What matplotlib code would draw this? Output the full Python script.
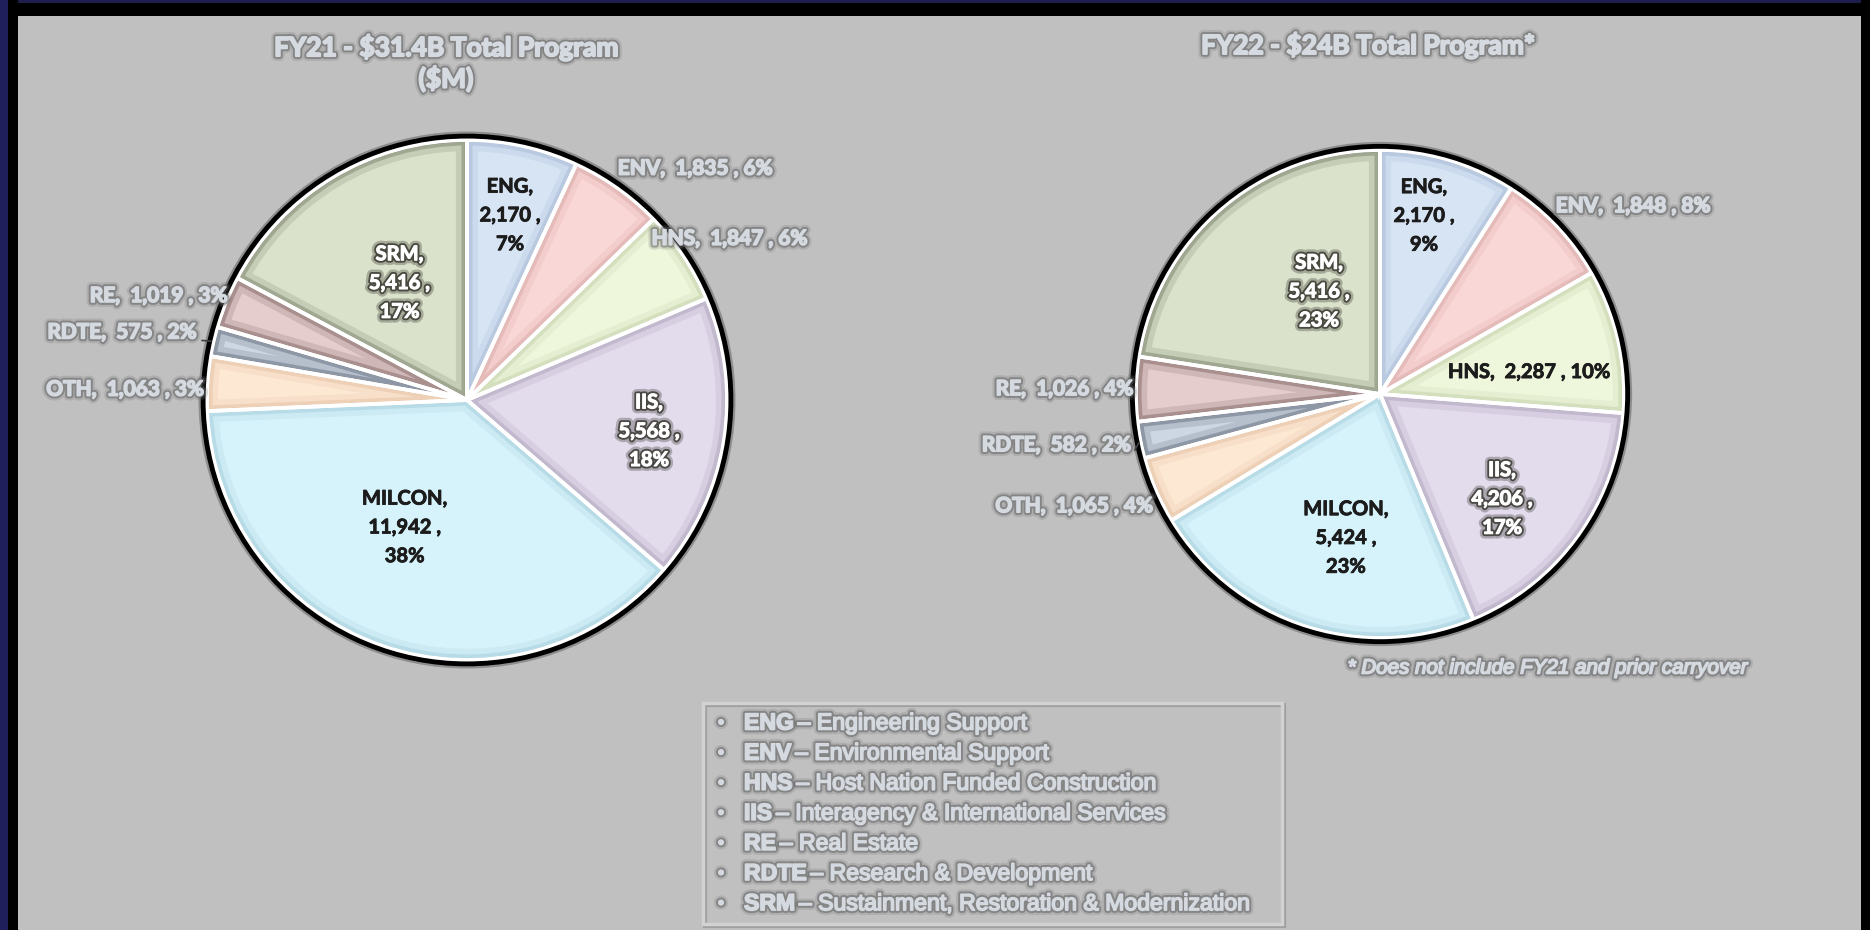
import matplotlib
matplotlib.use("Agg")
import numpy as np
import matplotlib.pyplot as plt
import matplotlib.patheffects as pe
from matplotlib.patches import Wedge, Circle, Rectangle

# Datos ($M)
categorias = ["ENG", "ENV", "HNS", "IIS", "MILCON", "OTH", "RDTE", "RE", "SRM"]
fy21_valores = [2170, 1835, 1847, 5568, 11942, 1063, 575, 1019, 5416]
fy21_pct = [7, 6, 6, 18, 38, 3, 2, 3, 17]
fy22_valores = [2170, 1848, 2287, 4206, 5424, 1065, 582, 1026, 5416]
fy22_pct = [9, 8, 10, 17, 23, 4, 2, 4, 23]

titulo_fy21 = "FY21 - $31.4B Total Program\n($M)"
titulo_fy22 = "FY22 - $24B Total Program*"
nota = "* Does not include FY21 and prior carryover"
leyenda = [
    ("ENG", "Engineering Support"),
    ("ENV", "Environmental Support"),
    ("HNS", "Host Nation Funded Construction"),
    ("IIS", "Interagency & International Services"),
    ("RE", "Real Estate"),
    ("RDTE", "Research & Development"),
    ("SRM", "Sustainment, Restoration & Modernization"),
]

colores = ["#d7e4f4", "#f9d7d6", "#eef6dc", "#e3dcec", "#d6f2fa",
           "#fde8d4", "#cdd7e3", "#e5cdcd", "#dbe2cc"]
sombras = ["#7f98bb", "#c28684", "#a5b684", "#857896", "#7fb3c4",
           "#d0a47a", "#142030", "#3a1a1a", "#333c25"]

FONDO = "#c0c0c0"
GRIS_TXT = "#d5d9e0"
W, H = 1870, 930

# posiciones de etiquetas (en radios) y tipo
layout_fy21 = {
    "ENG": (0.165, 0.71, "dark"), "ENV": (0.58, 0.89, "out"),
    "HNS": (0.71, 0.62, "out"), "IIS": (0.70, -0.12, "light"),
    "MILCON": (-0.24, -0.49, "dark"), "OTH": (-1.01, 0.04, "outr"),
    "RDTE": (-1.04, 0.26, "outr"), "RE": (-0.92, 0.40, "outr"),
    "SRM": (-0.26, 0.45, "light"),
}
layout_fy22 = {
    "ENG": (0.18, 0.73, "dark"), "ENV": (0.72, 0.77, "out"),
    "HNS": (0.61, 0.09, "dark1"), "IIS": (0.50, -0.43, "light"),
    "MILCON": (-0.14, -0.59, "dark"), "OTH": (-0.93, -0.46, "outr"),
    "RDTE": (-1.02, -0.21, "outr"), "RE": (-1.01, 0.02, "outr"),
    "SRM": (-0.25, 0.42, "light"),
}

efecto_fuera = [pe.Stroke(linewidth=7, foreground="#707070", alpha=0.22),
                pe.Stroke(linewidth=4, foreground="#5e5e5e", alpha=0.5),
                pe.Stroke(linewidth=1.2, foreground=GRIS_TXT),
                pe.Normal()]
efecto_claro = [pe.Stroke(linewidth=7, foreground="#2a2a22", alpha=0.3),
                pe.Stroke(linewidth=3.5, foreground="#2a2a22", alpha=0.75),
                pe.Stroke(linewidth=0.8, foreground="white"),
                pe.Normal()]
efecto_oscuro = [pe.Stroke(linewidth=0.6, foreground="#1c1c1c"), pe.Normal()]


def px(x, y):
    return x / W, 1 - y / H


def dibujar_pie(fig, cx, cy, r, valores, pct, layout):
    L = 1.6
    s = 2 * L * r
    ax = fig.add_axes([(cx - s / 2) / W, (H - cy - s / 2) / H, s / W, s / H])
    wedges, _ = ax.pie(valores, colors=colores, startangle=90, counterclock=False,
                       radius=1, wedgeprops=dict(linewidth=0))
    for w, sh in zip(wedges, sombras):
        for lw, a in [(16, 0.12), (8, 0.25), (3, 0.55)]:
            p = Wedge(w.center, w.r, w.theta1, w.theta2, facecolor="none",
                      edgecolor=sh, linewidth=lw, alpha=a)
            ax.add_patch(p)
            p.set_clip_path(w)
    for w in wedges:
        ax.add_patch(Wedge(w.center, w.r, w.theta1, w.theta2, fill=False,
                           edgecolor="white", linewidth=2.8))
    ax.add_patch(Circle((0, 0), 1.022, fill=False, edgecolor="#303030", lw=4, alpha=0.35))
    ax.add_patch(Circle((0, 0), 1.015, fill=False, edgecolor="black", lw=3.5))
    ax.set_xlim(-L, L)
    ax.set_ylim(-L, L)
    ax.set_aspect("equal")
    ax.axis("off")

    for cat, v, p, w in zip(categorias, valores, pct, wedges):
        x, y, tipo = layout[cat]
        if tipo in ("out", "outr"):
            ha = "left" if tipo == "out" else "right"
            ax.text(x, y, f"{cat},  {v:,} , {p}%", ha=ha, va="center",
                    fontsize=15, fontweight="bold", family="Lato",
                    color=GRIS_TXT, path_effects=efecto_fuera)
            if cat == "RDTE":
                ang = np.deg2rad((w.theta1 + w.theta2) / 2)
                ax.annotate("", xy=(np.cos(ang), np.sin(ang)),
                            xytext=(x + 0.01, y - 0.03),
                            arrowprops=dict(arrowstyle="-", color="#404040", lw=1.2))
        elif tipo == "dark1":
            ax.text(x, y, f"{cat},  {v:,} , {p}%", ha="center", va="center",
                    fontsize=14.5, fontweight="bold", family="Lato", color="#1c1c1c",
                    path_effects=efecto_oscuro)
        else:
            txt = f"{cat},\n{v:,} ,\n{p}%"
            if tipo == "dark":
                ax.text(x, y, txt, ha="center", va="center", fontsize=14.5,
                        fontweight="bold", family="Lato", color="#1c1c1c",
                        linespacing=1.55, path_effects=efecto_oscuro)
            else:
                ax.text(x, y, txt, ha="center", va="center", fontsize=14.5,
                        fontweight="bold", family="Lato", color="white",
                        linespacing=1.55, path_effects=efecto_claro)
    return ax


fig = plt.figure(figsize=(W / 100, H / 100), dpi=100, facecolor=FONDO)

# marco oscuro
fig.add_artist(Rectangle((0, 1 - 16 / H), 1, 16 / H, transform=fig.transFigure,
                         facecolor="black", edgecolor="none"))
fig.add_artist(Rectangle((0, 1 - 3 / H), 1, 3 / H, transform=fig.transFigure,
                         facecolor="#2c2c6e", edgecolor="none", alpha=0.7))
fig.add_artist(Rectangle((0, 0), 18 / W, 1, transform=fig.transFigure,
                         facecolor="black", edgecolor="none"))
fig.add_artist(Rectangle((0, 0), 8 / W, 1, transform=fig.transFigure,
                         facecolor="#2a2a7a", edgecolor="none", alpha=0.75))
fig.add_artist(Rectangle((1861 / W, 0), 9 / W, 1, transform=fig.transFigure,
                         facecolor="black", edgecolor="none"))

dibujar_pie(fig, 467, 400, 260, fy21_valores, fy21_pct, layout_fy21)
dibujar_pie(fig, 1380, 394, 244, fy22_valores, fy22_pct, layout_fy22)

efecto_titulo = [pe.Stroke(linewidth=7, foreground="#707070", alpha=0.22),
                 pe.Stroke(linewidth=4, foreground="#5a5a5a", alpha=0.5),
                 pe.Stroke(linewidth=1.4, foreground=GRIS_TXT),
                 pe.Normal()]
fig.text(*px(446, 63), titulo_fy21, ha="center", va="center", fontsize=19,
         fontweight="bold", family="Lato", color=GRIS_TXT, linespacing=1.25,
         path_effects=efecto_titulo)
fig.text(*px(1368, 45), titulo_fy22, ha="center", va="center", fontsize=19,
         fontweight="bold", family="Lato", color=GRIS_TXT, path_effects=efecto_titulo)

fig.text(*px(1547, 668), nota, ha="center", va="center", fontsize=14.8,
         style="italic", family="Liberation Sans", color=GRIS_TXT,
         path_effects=efecto_fuera)

# cuadro de leyenda
x0, y0, x1, y1 = 703, 703, 1282, 924
fig.add_artist(Rectangle(px(x0 + 2, y1 + 2), (x1 - x0) / W, (y1 - y0) / H,
                         transform=fig.transFigure, facecolor="none",
                         edgecolor="#8a8a8a", lw=3, alpha=0.6))
fig.add_artist(Rectangle(px(x0, y1), (x1 - x0) / W, (y1 - y0) / H,
                         transform=fig.transFigure, facecolor="none",
                         edgecolor="#d2d2d2", lw=2.5))
renderer = fig.canvas.get_renderer()
for i, (abbr, desc) in enumerate(leyenda):
    yy = 723 + i * 30.1
    fig.text(*px(721, yy), "\u2022", ha="center", va="center", fontsize=12,
             color=GRIS_TXT, family="Liberation Sans", path_effects=efecto_fuera)
    t = fig.text(*px(744, yy), abbr, ha="left", va="center", fontsize=16.6,
                 fontweight="bold", family="Liberation Sans", color=GRIS_TXT,
                 path_effects=efecto_fuera)
    bb = t.get_window_extent(renderer)
    fig.text((bb.x1 + 4) / W, 1 - yy / H, "\u2013 " + desc, ha="left", va="center",
             fontsize=16.6, family="Liberation Sans", color=GRIS_TXT,
             path_effects=efecto_fuera)

fig.savefig("out.png", dpi=100, facecolor=FONDO)
